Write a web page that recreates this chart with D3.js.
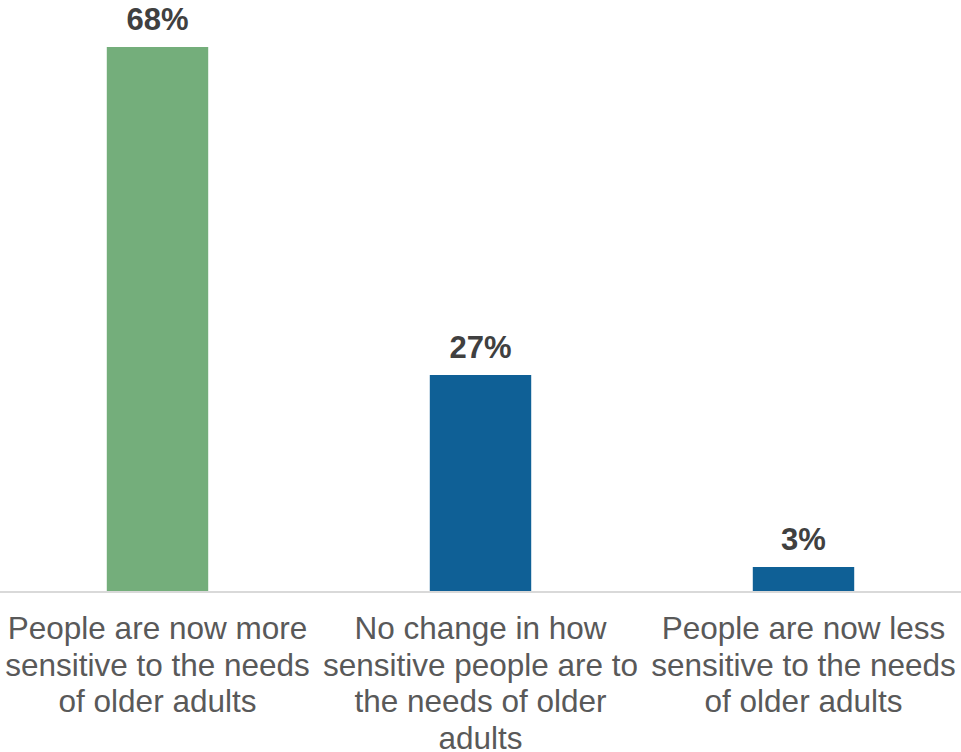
<!DOCTYPE html>
<html>
<head>
<meta charset="utf-8">
<script src="https://cdn.jsdelivr.net/npm/d3@7"></script>
<style>
  html, body { margin: 0; padding: 0; background: #fff; }
  svg { display: block; }
</style>
</head>
<body>
<svg id="chart" width="961" height="752"></svg>
<script>
const categories = ["more", "nochange", "less"];
const categoryLabels = [
  ["People are now more", "sensitive to the needs", "of older adults"],
  ["No change in how", "sensitive people are to", "the needs of older", "adults"],
  ["People are now less", "sensitive to the needs", "of older adults"]
];
const values = [68, 27, 3];
const barColors = ["#74ae7b", "#0f6096", "#0f6096"];

const svg = d3.select("#chart");
const baseline = 591;

const x = d3.scaleBand()
  .domain(categories)
  .range([-4, 965])
  .paddingInner(0.686)
  .paddingOuter(0.343);

const y = d3.scaleLinear()
  .domain([0, 68])
  .range([baseline, 47]);

const data = categories.map((c, i) => ({ c, v: values[i], color: barColors[i], lines: categoryLabels[i] }));

svg.selectAll("rect.bar")
  .data(data)
  .join("rect")
  .attr("class", "bar")
  .attr("x", d => x(d.c))
  .attr("width", x.bandwidth())
  .attr("y", d => y(d.v))
  .attr("height", d => y(0) - y(d.v))
  .attr("fill", d => d.color);

// axis line
svg.append("line")
  .attr("x1", 0).attr("x2", 961)
  .attr("y1", y(0) + 1).attr("y2", y(0) + 1)
  .attr("stroke", "#d9d9d9")
  .attr("stroke-width", 2);

// value labels
svg.selectAll("text.val")
  .data(data)
  .join("text")
  .attr("class", "val")
  .attr("x", d => x(d.c) + x.bandwidth() / 2)
  .attr("y", d => y(d.v) - 17)
  .attr("text-anchor", "middle")
  .attr("font-family", "Liberation Sans, Arial, sans-serif")
  .attr("font-weight", "bold")
  .attr("font-size", "31px")
  .attr("fill", "#404040")
  .text(d => d.v + "%");

// category labels
const lab = svg.selectAll("text.cat")
  .data(data)
  .join("text")
  .attr("class", "cat")
  .attr("text-anchor", "middle")
  .attr("font-family", "Liberation Sans, Arial, sans-serif")
  .attr("font-size", "31.5px")
  .attr("fill", "#595959");

lab.selectAll("tspan")
  .data(d => d.lines.map(l => ({ l, cx: x(d.c) + x.bandwidth() / 2 })))
  .join("tspan")
  .attr("x", d => d.cx)
  .attr("y", (d, i) => y(0) + 48 + i * 36.5)
  .text(d => d.l);
</script>
</body>
</html>
